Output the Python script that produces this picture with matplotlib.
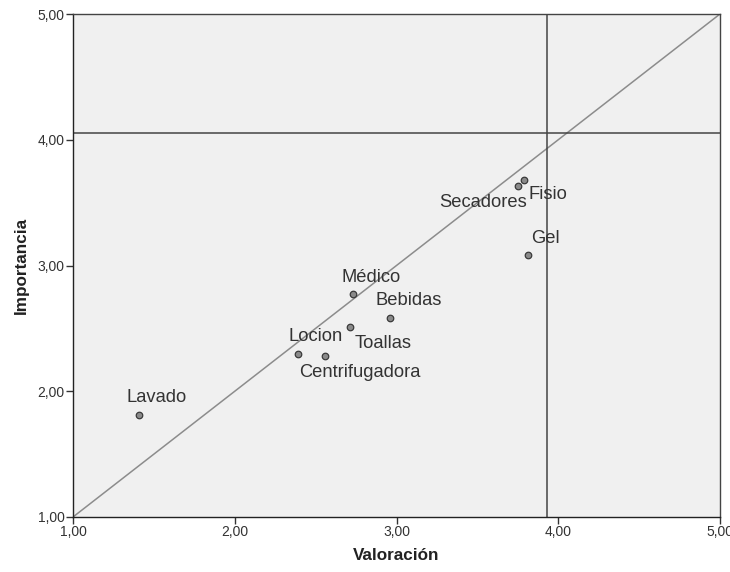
import matplotlib
matplotlib.use("Agg")
import matplotlib.pyplot as plt
from matplotlib.ticker import FixedLocator, FuncFormatter

plt.rcParams['font.family'] = ['Liberation Sans', 'DejaVu Sans']

# Data
labels = ["Lavado", "Locion", "Centrifugadora", "Toallas", "Médico",
          "Bebidas", "Secadores", "Fisio", "Gel"]
valoracion = [1.41, 2.39, 2.56, 2.71, 2.73, 2.96, 3.75, 3.79, 3.81]
importancia = [1.81, 2.30, 2.28, 2.51, 2.77, 2.58, 3.63, 3.68, 3.08]
ref_x = 3.93
ref_y = 4.05
ticks = [1, 2, 3, 4, 5]

# label offsets in pixels (dx, dy, ha)
offsets = {
    "Lavado": (-13, 18, "left"),
    "Locion": (-9, 17, "left"),
    "Centrifugadora": (-26, -16, "left"),
    "Toallas": (5, -16, "left"),
    "Médico": (-11, 17, "left"),
    "Bebidas": (-15, 18, "left"),
    "Secadores": (9, -16, "right"),
    "Fisio": (4, -15, "left"),
    "Gel": (4, 17, "left"),
}

fig = plt.figure(figsize=(7.3, 5.72), dpi=100)
ax = fig.add_axes([73/730, 55/572, 647/730, 503/572])
ax.set_facecolor("#f0f0f0")
ax.set_xlim(1, 5)
ax.set_ylim(1, 5)

ax.plot([1, 5], [1, 5], color="#8c8c8c", lw=1.1, zorder=2)
ax.axvline(ref_x, color="#444444", lw=1.1, zorder=2)
ax.axhline(ref_y, color="#444444", lw=1.1, zorder=2)

ax.scatter(valoracion, importancia, s=22, facecolor="#8a8a8a",
           edgecolor="#3a3a3a", linewidths=0.9, zorder=3)

for lab, x, y in zip(labels, valoracion, importancia):
    dx, dy, ha = offsets[lab]
    ax.annotate(lab, (x, y), xytext=(dx * 0.72, dy * 0.72),
                textcoords="offset points", ha=ha, va="center",
                fontsize=13.2, color="#333333", zorder=4)

fmt = FuncFormatter(lambda v, p: f"{v:.2f}".replace(".", ","))
ax.xaxis.set_major_locator(FixedLocator(ticks))
ax.yaxis.set_major_locator(FixedLocator(ticks))
ax.xaxis.set_major_formatter(fmt)
ax.yaxis.set_major_formatter(fmt)
ax.tick_params(axis="both", direction="out", length=5, width=1,
               color="#333333", labelsize=10, labelcolor="#333333", pad=1)
ax.tick_params(top=False, right=False)

for s in ax.spines.values():
    s.set_color("#444444")
    s.set_linewidth(1.0)
ax.spines["bottom"].set_color("#222222")
ax.spines["left"].set_color("#222222")

ax.set_xlabel("Valoración", fontsize=12.3, fontweight="bold", color="#222222", labelpad=6)
ax.set_ylabel("Importancia", fontsize=12.3, fontweight="bold", color="#222222", labelpad=6)

fig.savefig("out.png", dpi=100)
